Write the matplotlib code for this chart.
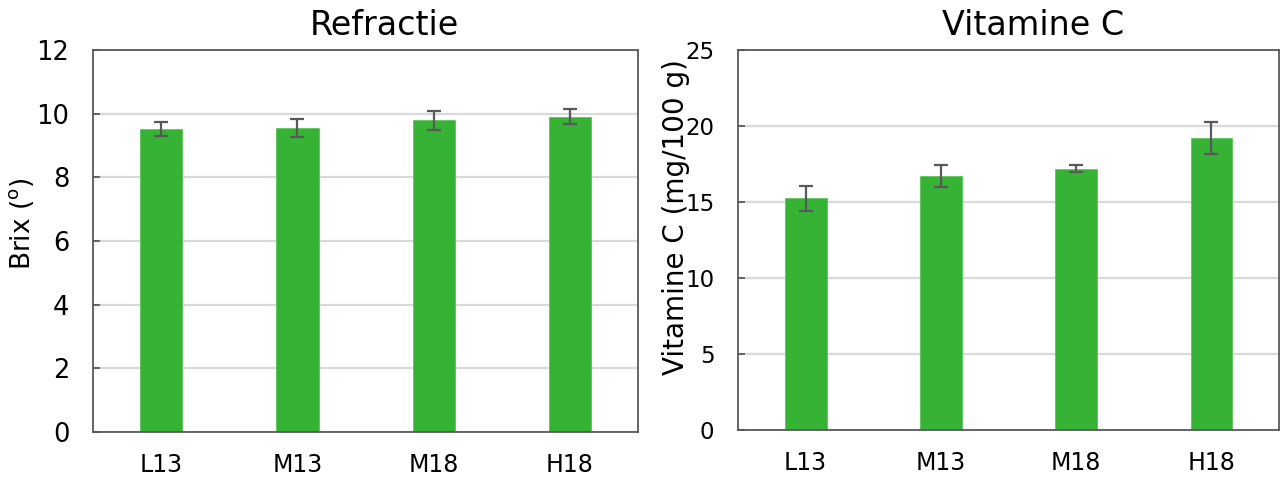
import matplotlib
matplotlib.use('Agg')
import matplotlib.pyplot as plt

# data
rassen = ['L13', 'M13', 'M18', 'H18']
brix = [9.52, 9.55, 9.79, 9.91]
brix_err = [0.22, 0.27, 0.29, 0.25]
vitc = [15.24, 16.72, 17.20, 19.21]
vitc_err = [0.80, 0.72, 0.23, 1.07]

groen = '#36b234'
rand = '#595959'
grid = '#d9d9d9'

plt.rcParams['font.family'] = 'DejaVu Sans'

fig = plt.figure(figsize=(12.8, 4.83), dpi=100)
ax1 = fig.add_axes([0.0727, 0.1056, 0.4258, 0.7909])
ax2 = fig.add_axes([0.5766, 0.1097, 0.4227, 0.7868])


def opmaak(ax, ymax, stap, ysize):
    ax.set_xlim(-0.5, len(rassen) - 0.5)
    ax.set_ylim(0, ymax)
    ax.set_yticks(range(0, ymax + 1, stap))
    ax.set_xticks(range(len(rassen)))
    ax.set_xticklabels(rassen)
    ax.yaxis.grid(True, color=grid, linewidth=1.6)
    ax.set_axisbelow(True)
    for s in ax.spines.values():
        s.set_color(rand)
        s.set_linewidth(1.3)
    ax.tick_params(axis='y', direction='in', length=5, width=1.3, color=rand,
                   labelsize=ysize, pad=17)
    ax.tick_params(axis='x', length=0, labelsize=17, pad=15)


# Refractie
ax1.bar(range(len(rassen)), brix, width=0.31, color=groen, edgecolor='#5cc45a', linewidth=0.6,
        yerr=brix_err, error_kw=dict(ecolor=rand, elinewidth=1.6, capsize=5, capthick=1.6))
opmaak(ax1, 12, 2, 18.5)
ax1.set_title('Refractie', fontsize=24, x=0.535, pad=11)
ax1.text(-0.131, 0.545, r'Brix ($^{\mathregular{o}}$)', transform=ax1.transAxes, rotation=90,
         ha='center', va='center', fontsize=19)

# Vitamine C
ax2.bar(range(len(rassen)), vitc, width=0.31, color=groen, edgecolor='#5cc45a', linewidth=0.6,
        yerr=vitc_err, error_kw=dict(ecolor=rand, elinewidth=1.6, capsize=5, capthick=1.6))
opmaak(ax2, 25, 5, 16.5)
ax2.set_title('Vitamine C', fontsize=24, x=0.545, pad=11)
ax2.text(-0.114, 0.56, 'Vitamine C (mg/100 g)', transform=ax2.transAxes, rotation=90,
         ha='center', va='center', fontsize=20)

fig.savefig('out.png', dpi=100)
